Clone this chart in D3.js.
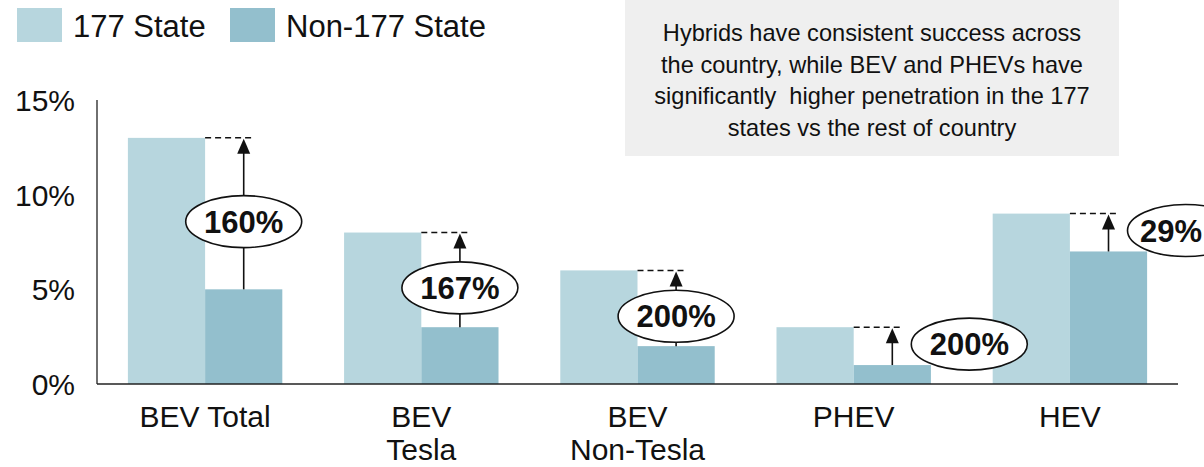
<!DOCTYPE html>
<html><head><meta charset="utf-8">
<script src="https://cdn.jsdelivr.net/npm/d3@7"></script>
<style>body{margin:0;background:#fff}svg{display:block;font-family:"Liberation Sans",Arial,sans-serif}</style>
</head><body><svg id="c" width="1204" height="467"></svg>
<script>
const categories = [["BEV Total"],["BEV","Tesla"],["BEV","Non-Tesla"],["PHEV"],["HEV"]];
const state177 = [13, 8, 6, 3, 9];
const non177 = [5, 3, 2, 1, 7];
const seriesNames = ["177 State", "Non-177 State"];
const yTicks = [0, 5, 10, 15];
const noteLines = ["Hybrids have consistent success across","the country, while BEV and PHEVs have","significantly  higher penetration in the 177","states vs the rest of country"];

(function () {
const colors = ["#b7d6de", "#93bfcd"];
const W = 1204;
const svg = d3.select("#c");
const pL = 97, pR = 1178, pT = 100, pB = 384;

const y = d3.scaleLinear().domain([0, 15]).range([pB, pT]);
const x0 = d3.scaleBand().domain(d3.range(categories.length)).range([pL, pR]).padding(0);
const x1 = d3.scaleBand().domain([0, 1]).range([0, x0.bandwidth()]).paddingInner(0).paddingOuter(0.4);

// note box
svg.append("rect").attr("x", 625).attr("y", 0).attr("width", 494).attr("height", 156).attr("fill", "#efefef");
svg.append("g").selectAll("text").data(noteLines).join("text")
  .attr("x", 872).attr("y", (d, i) => 41 + i * 31.7).attr("text-anchor", "middle")
  .attr("font-size", 23.6).attr("fill", "#111").style("white-space", "pre").text(d => d);

// legend
const lg = svg.append("g");
const legX = [17, 230];
seriesNames.forEach((n, i) => {
  lg.append("rect").attr("x", legX[i]).attr("y", 8).attr("width", 45).attr("height", 34).attr("fill", colors[i]);
  lg.append("text").attr("x", legX[i] + 56).attr("y", 37).attr("font-size", 31).attr("fill", "#111").text(n);
});

// y axis labels
svg.append("g").selectAll("text").data(yTicks).join("text")
  .attr("x", 75).attr("y", d => y(d) + 11).attr("text-anchor", "end")
  .attr("font-size", 30).attr("fill", "#111").text(d => d + "%");

// bars
const g = svg.append("g");
categories.forEach((c, i) => {
  const vals = [state177[i], non177[i]];
  g.selectAll(null).data(vals).join("rect")
    .attr("x", (d, j) => x0(i) + x1(j)).attr("y", d => y(d))
    .attr("width", x1.bandwidth()).attr("height", d => pB - y(d))
    .attr("fill", (d, j) => colors[j]);
});

// axes lines
svg.append("line").attr("x1", pL).attr("x2", pL).attr("y1", pT).attr("y2", pB).attr("stroke", "#222").attr("stroke-width", 1.3);
svg.append("line").attr("x1", pL).attr("x2", pR).attr("y1", pB).attr("y2", pB).attr("stroke", "#222").attr("stroke-width", 1.5);

// x labels
categories.forEach((c, i) => {
  const cx = x0(i) + x0.bandwidth() / 2;
  c.forEach((t, k) => {
    svg.append("text").attr("x", cx).attr("y", 427 + k * 33).attr("text-anchor", "middle")
      .attr("font-size", 30).attr("fill", "#111").text(t);
  });
});

// annotations
const ann = svg.append("g");
categories.forEach((c, i) => {
  const a = state177[i], b = non177[i];
  const ax = x0(i) + x1(1) + x1.bandwidth() / 2;
  const yTop = y(a), yBot = y(b);
  const dl = x0(i) + x1(1);
  ann.append("line").attr("x1", dl).attr("x2", ax + 8).attr("y1", yTop).attr("y2", yTop)
    .attr("stroke", "#111").attr("stroke-width", 1.5).attr("stroke-dasharray", "6,4");
  ann.append("line").attr("x1", ax).attr("x2", ax).attr("y1", yBot).attr("y2", yTop + 12)
    .attr("stroke", "#111").attr("stroke-width", 1.6);
  ann.append("path").attr("d", `M${ax},${yTop + 1}L${ax - 6.5},${yTop + 16}L${ax + 6.5},${yTop + 16}Z`).attr("fill", "#111");
  const pct = Math.round((a - b) / b * 100) + "%";
  const len = yBot - yTop;
  let cx, cy;
  if (len > 60) { cx = ax; cy = (yTop + yBot) / 2 + 8; }
  else { cx = ax + 77; cy = (yTop + yBot) / 2 - 2; }
  ann.append("ellipse").attr("cx", cx).attr("cy", cy).attr("rx", 58).attr("ry", 26)
    .attr("fill", "#fff").attr("stroke", "#111").attr("stroke-width", 1.6);
  const t = ann.append("text").attr("x", cx).attr("y", cy + 11).attr("text-anchor", "middle")
    .attr("font-size", 31).attr("font-weight", "bold").attr("fill", "#111").text(pct);
  const tw = t.node().getComputedTextLength();
  if (cx + tw / 2 > W - 2) t.attr("x", W - 2 - tw / 2);
});
})();
</script></body></html>
